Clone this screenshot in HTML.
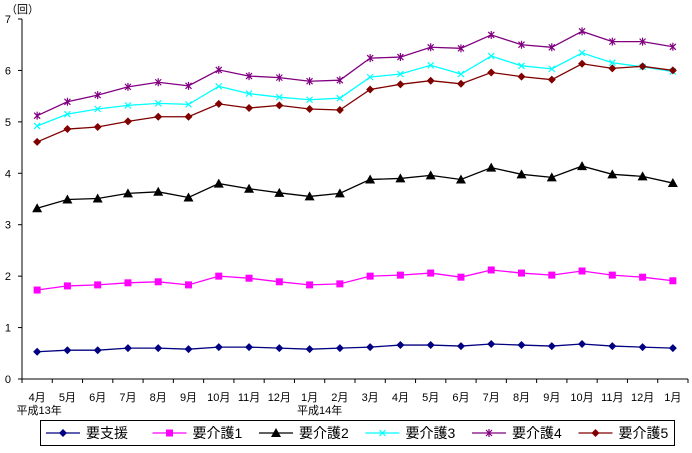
<!DOCTYPE html>
<html><head><meta charset="utf-8"><style>
body{margin:0;background:#fff;}
svg text{font-family:"Liberation Sans","Noto Sans CJK JP",sans-serif;}
</style></head><body>
<svg id="c" width="692" height="448" xmlns="http://www.w3.org/2000/svg"></svg>
<script>
const categories=["4月","5月","6月","7月","8月","9月","10月","11月","12月","1月","2月","3月","4月","5月","6月","7月","8月","9月","10月","11月","12月","1月"];
const yTicks=[0,1,2,3,4,5,6,7];
const sYoushien=[0.53,0.56,0.56,0.60,0.60,0.58,0.62,0.62,0.60,0.58,0.60,0.62,0.66,0.66,0.64,0.68,0.66,0.64,0.68,0.64,0.62,0.60];
const sKaigo1=[1.73,1.81,1.83,1.87,1.89,1.83,2.00,1.96,1.89,1.83,1.85,2.00,2.02,2.06,1.98,2.12,2.06,2.02,2.10,2.02,1.98,1.91];
const sKaigo2=[3.32,3.49,3.51,3.61,3.64,3.53,3.80,3.70,3.62,3.55,3.61,3.88,3.90,3.96,3.88,4.11,3.98,3.92,4.14,3.98,3.94,3.81];
const sKaigo3=[4.92,5.15,5.25,5.32,5.36,5.34,5.69,5.55,5.48,5.43,5.46,5.87,5.93,6.10,5.93,6.28,6.09,6.03,6.34,6.15,6.07,5.98];
const sKaigo4=[5.12,5.39,5.52,5.68,5.77,5.70,6.01,5.89,5.86,5.79,5.81,6.24,6.26,6.45,6.43,6.69,6.50,6.45,6.76,6.56,6.56,6.46];
const sKaigo5=[4.61,4.86,4.90,5.01,5.10,5.10,5.35,5.27,5.32,5.25,5.23,5.63,5.73,5.80,5.74,5.96,5.88,5.82,6.13,6.04,6.08,6.00];
const seriesNames=["要支援","要介護1","要介護2","要介護3","要介護4","要介護5"];

const svg=document.getElementById('c');
const NS="http://www.w3.org/2000/svg";
const X0=22,X1=688,Y0=379,Y7=19;
const band=(X1-X0)/categories.length;
const xs=i=>X0+band*(i+0.5);
const ys=v=>Y0-(Y0-Y7)*v/7;
function mk(t,a,p){const e=document.createElementNS(NS,t);for(const k in a)e.setAttribute(k,a[k]);(p||svg).appendChild(e);return e;}

let ax=mk('line',{x1:X0,y1:Y7,x2:X0,y2:Y0,stroke:'#000'});


let bx=mk('line',{x1:X0,y1:Y0,x2:X1,y2:Y0,stroke:'#000'});


yTicks.forEach(v=>{
  mk('line',{x1:X0-4,y1:ys(v),x2:X0,y2:ys(v),stroke:'#000'});
  const t=mk('text',{x:11,y:ys(v)+4,'font-size':11,'text-anchor':'end'});t.textContent=v;
  
  
});
let yt=mk('text',{x:6,y:13,'font-size':11});yt.textContent='（回）';


for(let i=0;i<=categories.length;i++){mk('line',{x1:X0+band*i,y1:Y0,x2:X0+band*i,y2:Y0+4,stroke:'#000'});}
categories.forEach((c,i)=>{
  const t=mk('text',{x:xs(i),y:401,'font-size':11,'text-anchor':'middle'});t.textContent=c;
  
  
});
[[0,2,'平成13年'],[9,10,'平成14年']].forEach(([i,dx,s])=>{
  const t=mk('text',{x:xs(i)+dx,y:414,'font-size':11,'text-anchor':'middle'});t.textContent=s;
  
  
});

function marker(g,type,x,y,col){
  if(type==='diamond')mk('polygon',{points:`${x},${y-4} ${x+4},${y} ${x},${y+4} ${x-4},${y}`,fill:col},g);
  else if(type==='square')mk('rect',{x:x-3.5,y:y-3.5,width:7,height:7,fill:col},g);
  else if(type==='tri')mk('polygon',{points:`${x},${y-5} ${x+5},${y+4} ${x-5},${y+4}`,fill:col},g);
  else if(type==='x'){mk('path',{d:`M${x-3},${y-3}L${x+3},${y+3}M${x+3},${y-3}L${x-3},${y+3}`,stroke:col,'stroke-width':1.2},g);}
  else if(type==='star'){mk('path',{d:`M${x-3},${y-3}L${x+3},${y+3}M${x+3},${y-3}L${x-3},${y+3}M${x},${y-4}L${x},${y+4}`,stroke:col,'stroke-width':1.2},g);}
}
const defs=[[sYoushien,'#000080','diamond'],[sKaigo1,'#ff00ff','square'],[sKaigo2,'#000000','tri'],[sKaigo3,'#00ffff','x'],[sKaigo4,'#800080','star'],[sKaigo5,'#800000','diamond']];
defs.forEach(([d,col,m],k)=>{
  const g=mk('g',{});
  
  
  mk('polyline',{points:d.map((v,i)=>xs(i)+','+ys(v)).join(' '),fill:'none',stroke:col,'stroke-width':1.3},g);
  d.forEach((v,i)=>marker(g,m,xs(i),ys(v),col));
});

const lg=mk('g',{});


mk('rect',{x:40.5,y:420.5,width:634,height:25,fill:'#fff',stroke:'#000'},lg);
defs.forEach(([d,col,m],k)=>{
  const x=46+k*106.5;
  const e=mk('g',{},lg);
  
  
  mk('line',{x1:x,y1:433,x2:x+34,y2:433,stroke:col,'stroke-width':1.3},e);
  marker(e,m,x+17,433,col);
  const t=mk('text',{x:x+40,y:438,'font-size':14},e);t.textContent=seriesNames[k];
});
</script>
</body></html>
